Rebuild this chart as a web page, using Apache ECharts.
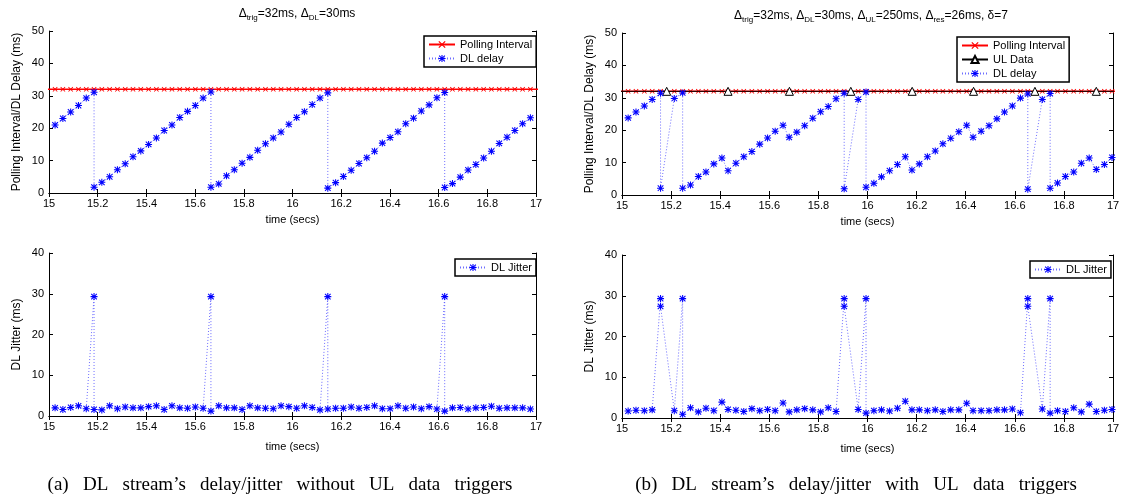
<!DOCTYPE html>
<html>
<head>
<meta charset="utf-8">
<script src="https://cdn.jsdelivr.net/npm/echarts@6/dist/echarts.min.js"></script>
<style>
  html, body { margin: 0; padding: 0; background: #fff; }
  #main { width: 1123px; height: 500px; }
</style>
</head>
<body>
<div id="main"></div>
<script>
// ---- data ----
// (a) left column: poll instants every 32 ms
var pollTimesA = [14.993, 15.025, 15.057, 15.089, 15.121, 15.153, 15.185, 15.217, 15.249, 15.281, 15.313, 15.345,
  15.377, 15.409, 15.441, 15.473, 15.505, 15.537, 15.569, 15.601, 15.633, 15.665, 15.697, 15.729, 15.761,
  15.793, 15.825, 15.857, 15.889, 15.921, 15.953, 15.985, 16.017, 16.049, 16.081, 16.113, 16.145, 16.177,
  16.209, 16.241, 16.273, 16.305, 16.337, 16.369, 16.401, 16.433, 16.465, 16.497, 16.529, 16.561, 16.593,
  16.625, 16.657, 16.689, 16.721, 16.753, 16.785, 16.817, 16.849, 16.881, 16.913, 16.945, 16.977, 17.009];
var pollLevel = 32; // Δtrig = 32 ms

var timesA = [15.025, 15.057, 15.089, 15.121, 15.153, 15.185, 15.185, 15.217, 15.249, 15.281, 15.313, 15.345,
  15.377, 15.409, 15.441, 15.473, 15.505, 15.537, 15.569, 15.601, 15.633, 15.665, 15.665, 15.697, 15.729,
  15.761, 15.793, 15.825, 15.857, 15.889, 15.921, 15.953, 15.985, 16.017, 16.049, 16.081, 16.113, 16.145,
  16.145, 16.177, 16.209, 16.241, 16.273, 16.305, 16.337, 16.369, 16.401, 16.433, 16.465, 16.497, 16.529,
  16.561, 16.593, 16.625, 16.625, 16.657, 16.689, 16.721, 16.753, 16.785, 16.817, 16.849, 16.881, 16.913,
  16.945, 16.977];
var delayA = [21.0, 23.0, 25.0, 27.0, 29.3, 31.1, 1.8, 3.3, 5.0, 7.2, 9.0, 11.2,
  13.0, 15.0, 17.0, 19.3, 21.0, 23.3, 25.2, 27.0, 29.3, 31.2, 1.8, 2.8, 5.3,
  7.2, 9.2, 11.0, 13.2, 15.2, 17.0, 18.8, 21.2, 23.3, 25.1, 27.3, 29.3, 30.9,
  1.5, 3.2, 5.1, 7.0, 9.1, 10.9, 12.9, 15.4, 17.1, 18.9, 21.4, 23.1, 25.3,
  27.2, 29.4, 31.0, 1.7, 2.9, 4.9, 7.1, 8.8, 10.8, 12.9, 15.3, 17.2, 19.3,
  21.4, 23.2];
var jitterA = [2.0, 1.6, 2.1, 2.5, 1.8, 29.3, 1.6, 1.5, 2.5, 1.8, 2.2, 2.0,
  2.0, 2.3, 2.5, 1.6, 2.5, 2.0, 1.9, 2.2, 1.9, 29.3, 1.2, 2.5, 2.0,
  2.0, 1.6, 2.5, 2.0, 1.9, 1.8, 2.5, 2.3, 1.9, 2.5, 2.1, 1.5, 29.3,
  1.7, 1.9, 1.9, 2.2, 1.9, 2.1, 2.5, 1.8, 1.8, 2.5, 1.9, 2.2, 1.8,
  2.3, 1.7, 29.3, 1.2, 2.0, 2.1, 1.7, 2.0, 2.1, 2.4, 1.9, 2.0, 2.0,
  2.0, 1.7];

// (b) right column
var pollTimesB = [14.993, 15.025, 15.057, 15.091, 15.123, 15.157, 15.213, 15.247, 15.279, 15.311, 15.342, 15.374,
  15.407, 15.432, 15.464, 15.496, 15.529, 15.561, 15.593, 15.624, 15.656, 15.681, 15.712, 15.744,
  15.777, 15.809, 15.840, 15.872, 15.905, 15.962, 15.994, 16.026, 16.057, 16.090, 16.122, 16.154,
  16.181, 16.211, 16.244, 16.276, 16.307, 16.339, 16.372, 16.404, 16.430, 16.463, 16.495, 16.527,
  16.558, 16.590, 16.623, 16.653, 16.712, 16.744, 16.774, 16.806, 16.840, 16.871, 16.903, 16.932,
  16.965, 16.996, 17.028];
var ulTimes = [14.932, 15.182, 15.432, 15.682, 15.932, 16.182, 16.432, 16.682, 16.932, 17.182];
var ulLevel = 32;

var timesB = [15.025, 15.057, 15.091, 15.123, 15.157, 15.157, 15.213, 15.247, 15.247, 15.279, 15.311, 15.342,
  15.374, 15.407, 15.432, 15.464, 15.496, 15.529, 15.561, 15.593, 15.624, 15.656, 15.681, 15.712,
  15.744, 15.777, 15.809, 15.840, 15.872, 15.905, 15.905, 15.962, 15.994, 15.994, 16.026, 16.057,
  16.090, 16.122, 16.154, 16.181, 16.211, 16.244, 16.276, 16.307, 16.339, 16.372, 16.404, 16.430,
  16.463, 16.495, 16.527, 16.558, 16.590, 16.623, 16.653, 16.653, 16.712, 16.744, 16.744, 16.774,
  16.806, 16.840, 16.871, 16.903, 16.932, 16.965, 16.996];
var delayB = [23.8, 25.6, 27.5, 29.5, 31.4, 2.1, 29.8, 31.5, 2.1, 3.1, 5.7, 7.1,
  9.6, 11.4, 7.5, 9.8, 11.8, 13.4, 15.7, 17.6, 19.7, 21.5, 17.8, 19.4,
  21.4, 23.7, 25.7, 27.3, 29.7, 31.4, 1.9, 29.5, 31.8, 2.4, 3.6, 5.6,
  7.5, 9.4, 11.8, 7.7, 9.6, 11.8, 13.6, 15.8, 17.5, 19.5, 21.5, 17.8,
  19.7, 21.4, 23.5, 25.6, 27.5, 29.9, 31.2, 1.8, 29.5, 31.3, 2.1, 3.7,
  5.7, 7.1, 9.8, 11.4, 7.9, 9.4, 11.6];
var jitterB = [1.7, 1.9, 1.8, 2.0, 29.3, 27.4, 1.8, 29.3, 0.9, 2.5, 1.5, 2.4,
  1.8, 3.9, 2.1, 1.9, 1.6, 2.3, 1.8, 2.1, 1.8, 3.7, 1.5, 2.0,
  2.3, 2.0, 1.5, 2.5, 1.6, 29.3, 27.4, 2.1, 29.3, 1.2, 1.8, 2.0,
  1.7, 2.4, 4.1, 2.0, 2.0, 1.8, 2.0, 1.6, 2.0, 2.0, 3.6, 1.8,
  1.8, 1.8, 2.0, 2.0, 2.2, 1.3, 29.3, 27.4, 2.2, 29.3, 1.2, 1.8,
  1.6, 2.5, 1.5, 3.4, 1.6, 1.9, 2.1];

var xTicks = { min: 15, max: 17, interval: 0.2 };

// ---- helpers ----
var FONT = "Liberation Sans";
var BLUE = "#0000ff";
var starPath = "path://M8.5,0L11.5,0L11.5,20L8.5,20Z M0,8.5L20,8.5L20,11.5L0,11.5Z " +
  "M3.06,0.94L19.06,16.94L16.94,19.06L0.94,3.06Z M16.94,0.94L19.06,3.06L3.06,19.06L0.94,16.94Z";
var crossPath = "path://M3.06,0.94L19.06,16.94L16.94,19.06L0.94,3.06Z M16.94,0.94L19.06,3.06L3.06,19.06L0.94,16.94Z";

function pairs(xs, ys) {
  var out = [];
  for (var i = 0; i < xs.length; i++) out.push([xs[i], ys[i]]);
  return out;
}
function level(xs, v) {
  return xs.map(function(t) { return [t, v]; });
}

var grids = [
  { left: 49, top: 31, width: 487, height: 162 },   // top-left
  { left: 622, top: 33, width: 491, height: 162 },  // top-right
  { left: 49, top: 253, width: 487, height: 163 },  // bottom-left
  { left: 622, top: 255, width: 491, height: 163 }  // bottom-right
];
var yMax = [50, 50, 40, 40];
var yNames = ["Polling Interval/DL Delay (ms)", "Polling Interval/DL Delay (ms)", "DL Jitter (ms)", "DL Jitter (ms)"];
var xNameGap = [21, 21, 25, 25];

var xAxes = [], yAxes = [];
grids.forEach(function(g, i) {
  // main bottom / left axes
  xAxes.push({
    type: "value", gridIndex: i, position: "bottom",
    min: xTicks.min, max: xTicks.max, interval: xTicks.interval,
    name: "time (secs)", nameLocation: "middle", nameGap: xNameGap[i],
    nameTextStyle: { color: "#000", fontFamily: FONT, fontSize: 11 },
    axisLine: { lineStyle: { color: "#000", width: 1 } },
    axisTick: { inside: true, length: 4, lineStyle: { color: "#000" } },
    axisLabel: {
      color: "#000", fontFamily: FONT, fontSize: 11, margin: 5,
      formatter: function(v) { return String(Math.round(v * 10) / 10); }
    },
    splitLine: { show: false }
  });
  yAxes.push({
    type: "value", gridIndex: i, position: "left",
    min: 0, max: yMax[i], interval: 10,
    name: yNames[i], nameLocation: "middle", nameGap: 26,
    nameTextStyle: { color: "#000", fontFamily: FONT, fontSize: 12 },
    axisLine: { show: true, lineStyle: { color: "#000", width: 1 } },
    axisTick: { show: true, inside: true, length: 4, lineStyle: { color: "#000" } },
    axisLabel: { color: "#000", fontFamily: FONT, fontSize: 11, margin: 5 },
    splitLine: { show: false }
  });
});
grids.forEach(function(g, i) {
  // box: top / right axes with ticks only
  xAxes.push({
    type: "value", gridIndex: i, position: "top",
    min: xTicks.min, max: xTicks.max, interval: xTicks.interval,
    axisLine: { lineStyle: { color: "#000", width: 1 } },
    axisTick: { inside: true, length: 4, lineStyle: { color: "#000" } },
    axisLabel: { show: false }, splitLine: { show: false }
  });
  yAxes.push({
    type: "value", gridIndex: i, position: "right",
    min: 0, max: yMax[i], interval: 10,
    axisLine: { show: true, lineStyle: { color: "#000", width: 1 } },
    axisTick: { show: true, inside: true, length: 4, lineStyle: { color: "#000" } },
    axisLabel: { show: false }, splitLine: { show: false }
  });
});

function pollSeries(idx, xs) {
  return {
    name: "Polling Interval", type: "line", xAxisIndex: idx, yAxisIndex: idx,
    data: level(xs, pollLevel),
    symbol: crossPath, symbolSize: 5, showAllSymbol: true,
    itemStyle: { color: "#ff0000" },
    lineStyle: { color: "#ff0000", width: 1.4 },
    z: 2
  };
}
function blueSeries(name, idx, xs, ys) {
  return {
    name: name, type: "line", xAxisIndex: idx, yAxisIndex: idx,
    data: pairs(xs, ys),
    symbol: starPath, symbolSize: 7, showAllSymbol: true,
    itemStyle: { color: BLUE },
    lineStyle: { color: "rgba(60,60,255,0.75)", width: 1, type: [1, 2] },
    z: 4
  };
}

function legendAt(left, top, names) {
  return {
    left: left, top: top, orient: "vertical",
    data: names, selectedMode: false,
    itemWidth: 26, itemHeight: 9, itemGap: 3,
    padding: [3, 4, 3, 4],
    borderColor: "#000", borderWidth: 1.5, backgroundColor: "#fff",
    textStyle: { color: "#000", fontFamily: FONT, fontSize: 11 }
  };
}

var subRich = {
  n: { fontFamily: FONT, fontSize: 12, fontWeight: "normal", color: "#000", lineHeight: 16 },
  s: { fontFamily: FONT, fontSize: 8, fontWeight: "normal", color: "#000", lineHeight: 8, padding: [8, 0, 0, 0] }
};

var chart = echarts.init(document.getElementById("main"));
chart.setOption({
  animation: false,
  backgroundColor: "#ffffff",
  title: [
    {
      left: 292, top: 1, textAlign: "center",
      text: "{n|Δ}{s|trig}{n|=32ms, Δ}{s|DL}{n|=30ms}",
      textStyle: { fontWeight: "normal", rich: subRich }
    },
    {
      left: 866, top: 3, textAlign: "center",
      text: "{n|Δ}{s|trig}{n|=32ms, Δ}{s|DL}{n|=30ms, Δ}{s|UL}{n|=250ms, Δ}{s|res}{n|=26ms, δ=7}",
      textStyle: { fontWeight: "normal", rich: subRich }
    },
    {
      left: 275, top: 471, textAlign: "center",
      text: "(a)   DL   stream’s   delay/jitter   without   UL   data   triggers",
      textStyle: { fontFamily: "Liberation Serif", fontSize: 19, fontWeight: "normal", color: "#000" }
    },
    {
      left: 851, top: 471, textAlign: "center",
      text: "(b)   DL   stream’s   delay/jitter   with   UL   data   triggers",
      textStyle: { fontFamily: "Liberation Serif", fontSize: 19, fontWeight: "normal", color: "#000" }
    }
  ],
  legend: [
    legendAt(424, 36, ["Polling Interval", "DL delay"]),
    legendAt(957, 37, ["Polling Interval", "UL Data", "DL delay"]),
    legendAt(455, 259, ["DL Jitter"]),
    legendAt(1030, 261, ["DL Jitter"])
  ],
  grid: grids,
  xAxis: xAxes,
  yAxis: yAxes,
  series: [
    pollSeries(0, pollTimesA),
    blueSeries("DL delay", 0, timesA, delayA),
    pollSeries(1, pollTimesB),
    {
      name: "UL Data", type: "line", xAxisIndex: 1, yAxisIndex: 1,
      data: level(ulTimes, ulLevel),
      symbol: "triangle", symbolSize: 8, showAllSymbol: true,
      itemStyle: { color: "#ffffff", borderColor: "#000", borderWidth: 1 },
      lineStyle: { color: "#000", width: 1 },
      z: 3
    },
    blueSeries("DL delay", 1, timesB, delayB),
    blueSeries("DL Jitter", 2, timesA, jitterA),
    blueSeries("DL Jitter", 3, timesB, jitterB)
  ]
});
</script>
</body>
</html>
